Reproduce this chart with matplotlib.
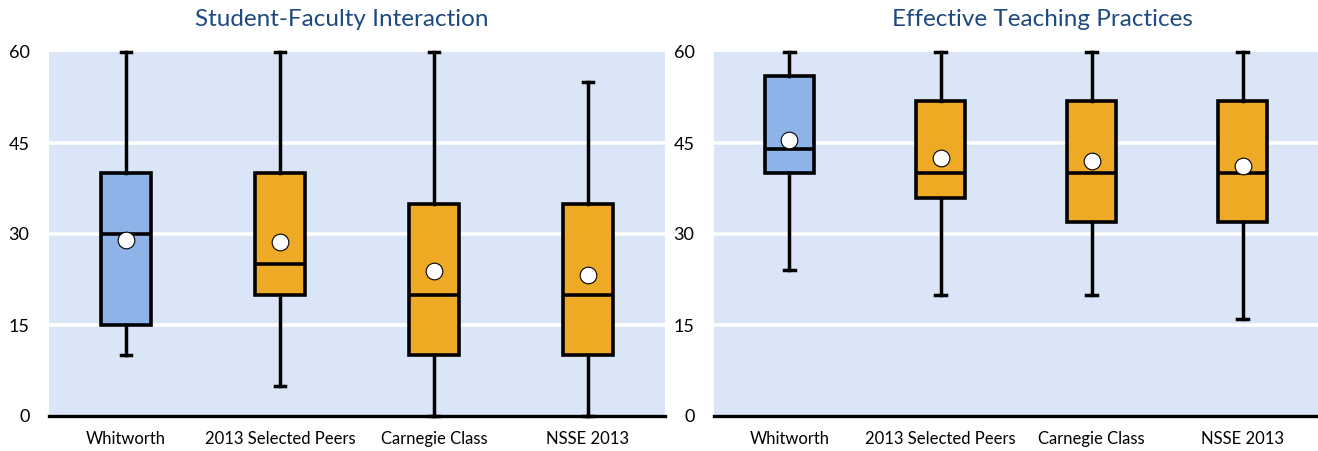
import matplotlib
matplotlib.use("Agg")
import matplotlib.pyplot as plt

plt.rcParams['font.family'] = ['Lato', 'DejaVu Sans']

groups = ["Whitworth", "2013 Selected Peers", "Carnegie Class", "NSSE 2013"]
box_colors = ["#8DB3E9", "#EEAA24", "#EEAA24", "#EEAA24"]

# Student-Faculty Interaction: whisker low, Q1, median, Q3, whisker high, mean
sfi_low = [10, 5, 0, 0]
sfi_q1 = [15, 20, 10, 10]
sfi_med = [30, 25, 20, 20]
sfi_q3 = [40, 40, 35, 35]
sfi_high = [60, 60, 60, 55]
sfi_mean = [29.0, 28.6, 23.9, 23.3]

# Effective Teaching Practices
etp_low = [24, 20, 20, 16]
etp_q1 = [40, 36, 32, 32]
etp_med = [44, 40, 40, 40]
etp_q3 = [56, 52, 52, 52]
etp_high = [60, 60, 60, 60]
etp_mean = [45.5, 42.5, 42.1, 41.2]

y_ticks = [0, 15, 30, 45, 60]
titles = ["Student-Faculty Interaction", "Effective Teaching Practices"]

BG = "#DAE5F7"
TITLE_COLOR = "#1F4A80"

fig = plt.figure(figsize=(13.18, 4.51), dpi=100)
W, H = 1318, 451
ax_left = fig.add_axes([49 / W, 35 / H, 616 / W, 364 / H])
ax_right = fig.add_axes([714 / W, 35 / H, 604 / W, 364 / H])


def draw_panel(ax, low, q1, med, q3, high, mean):
    stats = []
    for i, name in enumerate(groups):
        stats.append(dict(label=name, whislo=low[i], q1=q1[i], med=med[i],
                          q3=q3[i], whishi=high[i], mean=mean[i], fliers=[]))
    ax.set_facecolor(BG)
    for y in y_ticks[1:-1]:
        ax.axhline(y, color="white", lw=2.6, zorder=1)
    bp = ax.bxp(stats, positions=[1, 2, 3, 4], widths=0.33, patch_artist=True,
                showmeans=True, showfliers=False,
                boxprops=dict(linewidth=2.6, edgecolor="black"),
                whiskerprops=dict(linewidth=2.5, color="black"),
                capprops=dict(linewidth=2.5, color="black"),
                medianprops=dict(linewidth=2.6, color="black"),
                meanprops=dict(marker="o", markerfacecolor="white",
                               markeredgecolor="black", markeredgewidth=0.8,
                               markersize=12),
                capwidths=0.07, zorder=3)
    for patch, c in zip(bp["boxes"], box_colors):
        patch.set_facecolor(c)
    for key in ("whiskers", "caps", "means"):
        for art in bp[key]:
            art.set_clip_on(False)
    ax.set_xlim(0.5, 4.5)
    ax.set_ylim(0, 60)
    ax.set_yticks(y_ticks)
    ax.set_yticklabels([str(v) for v in y_ticks], fontsize=13)
    ax.set_xticks([1, 2, 3, 4])
    ax.set_xticklabels(groups, fontsize=12)
    ax.tick_params(axis="y", length=0, pad=14)
    ax.tick_params(axis="x", length=0, pad=11)
    for s in ("top", "right", "left"):
        ax.spines[s].set_visible(False)
    ax.spines["bottom"].set_linewidth(2.4)
    ax.spines["bottom"].set_zorder(5)


draw_panel(ax_left, sfi_low, sfi_q1, sfi_med, sfi_q3, sfi_high, sfi_mean)
draw_panel(ax_right, etp_low, etp_q1, etp_med, etp_q3, etp_high, etp_mean)

fig.text(342 / W, 1 - 20 / H, titles[0], ha="center", va="center",
         fontsize=17.5, color=TITLE_COLOR)
fig.text(1042 / W, 1 - 20 / H, titles[1], ha="center", va="center",
         fontsize=17.5, color=TITLE_COLOR)

fig.savefig("out.png", dpi=100)
